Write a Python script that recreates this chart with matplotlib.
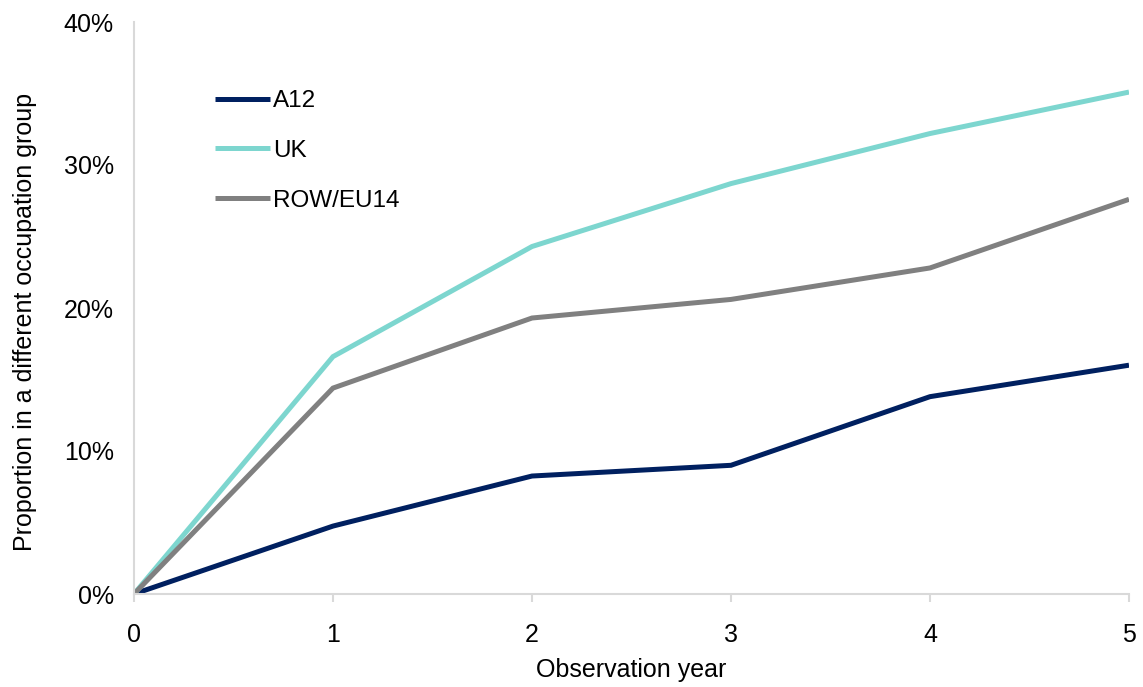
import matplotlib
matplotlib.use("Agg")
import matplotlib.pyplot as plt
from matplotlib.ticker import FuncFormatter

plt.rcParams['font.family'] = ['Liberation Sans', 'DejaVu Sans']

years = [0, 1, 2, 3, 4, 5]
a12 = [0.0, 4.75, 8.25, 9.0, 13.8, 16.0]
uk = [0.0, 16.6, 24.3, 28.7, 32.2, 35.1]
row_eu14 = [0.0, 14.4, 19.3, 20.6, 22.8, 27.6]

series_names = ["A12", "UK", "ROW/EU14"]
series_colors = ["#002060", "#7DD6CF", "#808080"]

FS = 18

fig = plt.figure(figsize=(11.43, 6.87), dpi=100)
ax = fig.add_axes([134 / 1143, 1 - 594 / 687, (1129 - 134) / 1143, (594 - 22) / 687])

for vals, name, col in zip([a12, uk, row_eu14], series_names, series_colors):
    ax.plot(years, vals, color=col, lw=3.6, label=name, solid_capstyle="butt", solid_joinstyle="miter")

ax.set_xlim(0, 5)
ax.set_ylim(0, 40)
ax.set_xticks(years)
ax.set_yticks([0, 10, 20, 30, 40])
ax.yaxis.set_major_formatter(FuncFormatter(lambda v, p: f"{v:.0f}%"))

for s in ["top", "right"]:
    ax.spines[s].set_visible(False)
for s in ["left", "bottom"]:
    ax.spines[s].set_color("#D9D9D9")
    ax.spines[s].set_linewidth(1.5)

ax.tick_params(axis="x", direction="out", length=6, width=1.5, color="#D9D9D9",
               labelsize=FS, pad=15, labelcolor="black")
ax.tick_params(axis="y", length=0, labelsize=FS, pad=14.5, labelcolor="black")

ax.set_xlabel("Observation year", fontsize=FS, labelpad=8)
ax.set_ylabel("Proportion in a different occupation group", fontsize=FS, labelpad=20)
ax.yaxis.set_label_coords(-0.097, 0.475)

leg = ax.legend(loc="upper left", bbox_to_anchor=(0.081, 0.881), frameon=False,
                fontsize=17.5, handlelength=2.3, handletextpad=0.1, labelspacing=1.14,
                borderaxespad=0, borderpad=0)

fig.savefig("out.png", dpi=100)
